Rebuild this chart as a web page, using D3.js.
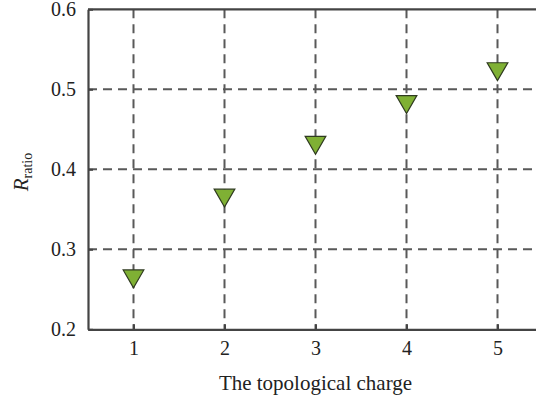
<!DOCTYPE html>
<html>
<head>
<meta charset="utf-8">
<script src="https://cdn.jsdelivr.net/npm/d3@7"></script>
<style>
  html, body { margin: 0; padding: 0; background: #fff; }
  svg { display: block; }
  text { font-family: "Liberation Serif", "Times New Roman", serif; fill: #222; }
</style>
</head>
<body>
<script>
// Topological charge vs. R_ratio
const charges = [1, 2, 3, 4, 5];
const ratios = [0.263, 0.364, 0.430, 0.481, 0.522];
const yTicks = [0.2, 0.3, 0.4, 0.5, 0.6];
const xTicks = [1, 2, 3, 4, 5];

const width = 536, height = 404;
const margin = { left: 88, top: 9.3, bottom: 329.3 };
const serif = "'Liberation Serif', 'Times New Roman', serif";

const svg = d3.select("body").append("svg")
  .attr("width", width).attr("height", height);

const x = d3.scaleLinear().domain([0.5, 5.5]).range([margin.left, 543]);
const y = d3.scaleLinear().domain([0.2, 0.6]).range([margin.bottom, margin.top]);

const axisColor = "#444";
const gridColor = "#595959";

// dashed grid
const grid = svg.append("g");
grid.selectAll("line.v").data(xTicks).join("line")
  .attr("x1", d => x(d)).attr("x2", d => x(d))
  .attr("y1", y(0.6)).attr("y2", y(0.2))
  .attr("stroke", gridColor).attr("stroke-width", 2)
  .attr("stroke-dasharray", "9,6");
grid.selectAll("line.h").data(yTicks.filter(v => v > 0.2 && v < 0.6)).join("line")
  .attr("x1", x(0.5)).attr("x2", x(5.5))
  .attr("y1", d => y(d)).attr("y2", d => y(d))
  .attr("stroke", gridColor).attr("stroke-width", 2)
  .attr("stroke-dasharray", "9,6");

// axes with inward ticks
const xAxis = d3.axisBottom(x).tickValues(xTicks).tickFormat(d3.format("d"))
  .tickSizeInner(-5).tickSizeOuter(0).tickPadding(12);
const yAxis = d3.axisLeft(y).tickValues(yTicks).tickFormat(d3.format(".1f"))
  .tickSizeInner(-5).tickSizeOuter(0).tickPadding(12);

function styleAxis(g) {
  g.attr("font-family", serif).attr("font-size", 20);
  g.select(".domain").attr("stroke", axisColor).attr("stroke-width", 2.2);
  g.selectAll(".tick line").attr("stroke", axisColor).attr("stroke-width", 2);
  g.selectAll(".tick text").attr("fill", "#222")
    .style("font-family", serif).style("font-size", "20px");
}

svg.append("g").attr("transform", `translate(0,${y(0.2)})`).call(xAxis).call(styleAxis);
svg.append("g").attr("transform", `translate(${x(0.5)},0)`).call(yAxis).call(styleAxis);

// top border of the box
svg.append("line")
  .attr("x1", x(0.5)).attr("x2", x(5.5))
  .attr("y1", y(0.6)).attr("y2", y(0.6))
  .attr("stroke", axisColor).attr("stroke-width", 2.2);

// downward-triangle markers, centred on their bounding box
const triSize = 185;
const triY = Math.sqrt(triSize / (Math.sqrt(3) * 3));
const tri = d3.symbol().type(d3.symbolTriangle).size(triSize);
svg.append("g").selectAll("path").data(charges.map((c, i) => ({ c, r: ratios[i] }))).join("path")
  .attr("d", tri)
  .attr("transform", d => `translate(${x(d.c)},${y(d.r) - triY / 2}) rotate(180)`)
  .attr("fill", "#7fb034").attr("stroke", "#2f3a20").attr("stroke-width", 1.2);

// axis titles
svg.append("text")
  .attr("x", x(3)).attr("y", 390)
  .attr("text-anchor", "middle")
  .style("font-family", serif)
  .style("font-size", "21px")
  .text("The topological charge");

const yl = svg.append("text")
  .attr("transform", `translate(28,172) rotate(-90)`)
  .attr("text-anchor", "middle")
  .style("font-family", serif)
  .style("font-size", "21px");
yl.append("tspan").style("font-style", "italic").text("R");
yl.append("tspan").attr("dy", 4).style("font-size", "14px").text("ratio");
</script>
</body>
</html>
